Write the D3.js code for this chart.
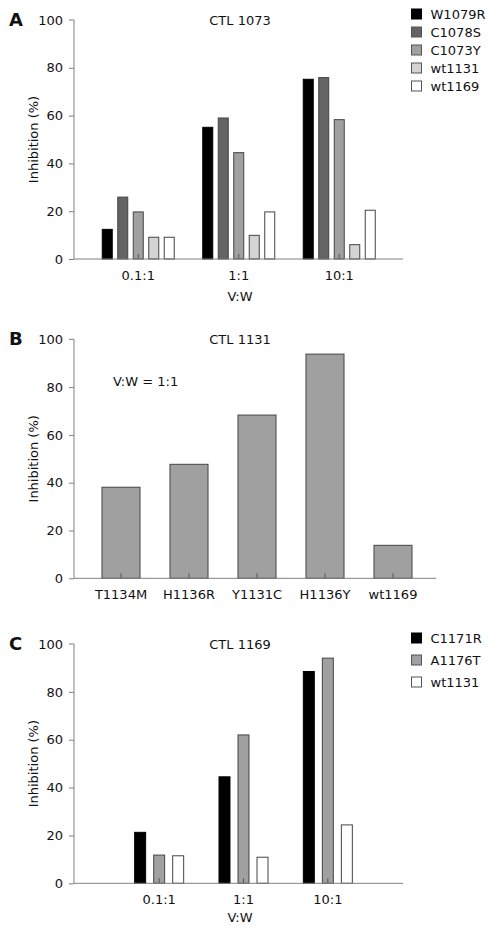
<!DOCTYPE html>
<html><head><meta charset="utf-8">
<script src="https://cdn.jsdelivr.net/npm/d3@7"></script>
<style>
html,body{margin:0;padding:0;background:#fff;}
svg text{font-family:"DejaVu Sans",sans-serif;fill:#111;}
</style></head>
<body>
<svg id="chart" width="492" height="935"></svg>
<script>
// ---------- data ----------
const yTicks = [0, 20, 40, 60, 80, 100];

// Panel A: CTL 1073
const ratiosA = ["0.1:1", "1:1", "10:1"];
const seriesA = ["W1079R", "C1078S", "C1073Y", "wt1131", "wt1169"];
const W1079R = [12.4, 55.1, 75.2];
const C1078S = [25.9, 59.0, 75.9];
const C1073Y = [19.7, 44.5, 58.3];
const wt1131A = [9.1, 9.9, 6.0];
const wt1169A = [9.1, 19.7, 20.4];
const colorsA = ["#000000", "#646464", "#a0a0a0", "#d4d4d4", "#ffffff"];

// Panel B: CTL 1131 (V:W = 1:1)
const mutantsB = ["T1134M", "H1136R", "Y1131C", "H1136Y", "wt1169"];
const inhibitionB = [38.1, 47.7, 68.3, 93.8, 13.8];
const colorB = "#a0a0a0";

// Panel C: CTL 1169
const ratiosC = ["0.1:1", "1:1", "10:1"];
const seriesC = ["C1171R", "A1176T", "wt1131"];
const C1171R = [21.3, 44.5, 88.5];
const A1176T = [11.8, 62.0, 94.1];
const wt1131C = [11.5, 10.9, 24.4];
const colorsC = ["#000000", "#a0a0a0", "#ffffff"];

// ---------- drawing ----------
const svg = d3.select("#chart");
const axisColor = "#808080";
const barStroke = "#444444";

function drawFrame(cfg) {
  const g = svg.append("g");
  const y = d3.scaleLinear().domain([0, 100]).range([cfg.y0, cfg.y100]);
  const ya = g.append("g").attr("transform", `translate(${cfg.axisX},0)`)
    .call(d3.axisLeft(y).tickValues(yTicks).tickSize(5).tickPadding(6));
  ya.select(".domain").attr("stroke", axisColor).attr("d", `M-5,${cfg.y100}H0V${cfg.y0}`);
  ya.selectAll(".tick line").attr("stroke", axisColor);
  ya.selectAll(".tick text").attr("font-size", 13).attr("font-family", null).attr("fill", "#111");
  ya.selectAll(".tick").filter(d => d === 100).select("line").remove();
  g.append("text").attr("x", 9).attr("y", cfg.y100 + 6).attr("font-size", 18)
    .attr("font-weight", "bold").text(cfg.letter);
  g.append("text").attr("x", 240).attr("y", cfg.y100 + 5).attr("text-anchor", "middle")
    .attr("font-size", 13).text(cfg.title);
  g.append("text").attr("transform", `translate(38,${(cfg.y0 + cfg.y100) / 2}) rotate(-90)`)
    .attr("text-anchor", "middle").attr("font-size", 13).text("Inhibition (%)");
  return { g, y };
}

function drawXAxis(g, x, cfg, labelY) {
  const xa = g.append("g").attr("transform", `translate(0,${cfg.y0})`)
    .call(d3.axisBottom(x).tickSize(0).tickPadding(0));
  xa.select(".domain").remove();
  xa.selectAll(".tick text").attr("font-size", 13).attr("font-family", null)
    .attr("fill", "#111").attr("dy", null).attr("y", labelY);
  xa.selectAll(".tick").append("line").attr("y1", 0).attr("y2", -5)
    .attr("stroke", "#555");
  g.append("line").attr("x1", cfg.axisX).attr("x2", cfg.axisEnd)
    .attr("y1", cfg.y0).attr("y2", cfg.y0).attr("stroke", axisColor);
}

function drawLegend(g, names, colors, x0, yTop, step) {
  names.forEach((n, i) => {
    g.append("rect").attr("x", x0).attr("y", yTop + i * step).attr("width", 10).attr("height", 10)
      .attr("fill", colors[i]).attr("stroke", colors[i] === "#000000" ? "#000" : "#555");
    g.append("text").attr("x", x0 + 19).attr("y", yTop + i * step + 10)
      .attr("font-size", 13).text(n);
  });
}

function groupedPanel(cfg, cats, series, vals, colors) {
  const { g, y } = drawFrame(cfg);
  const x = d3.scaleBand().domain(cats).range(cfg.bandRange).padding(0);
  const xi = d3.scaleBand().domain(series).range([-cfg.groupHalf, cfg.groupHalf]).paddingInner(cfg.innerPad);
  const rows = [];
  series.forEach((s, si) => cats.forEach((c, ci) => rows.push({ s, c, v: vals[si][ci], col: colors[si] })));
  g.selectAll("rect.bar").data(rows).join("rect").attr("class", "bar")
    .attr("x", d => x(d.c) + x.bandwidth() / 2 + xi(d.s) + 0.5)
    .attr("y", d => y(d.v))
    .attr("width", xi.bandwidth() - 1)
    .attr("height", d => y(0) - y(d.v))
    .attr("fill", d => d.col)
    .attr("stroke", d => d.col === "#000000" ? "#000" : barStroke).attr("stroke-width", 1);
  drawXAxis(g, x, cfg, 21);
  g.append("text").attr("x", 240).attr("y", cfg.y0 + cfg.vwDy).attr("text-anchor", "middle")
    .attr("font-size", 13).text("V:W");
  return g;
}

// Panel A
const gA = groupedPanel({ letter: "A", title: "CTL 1073", y0: 259, y100: 20, axisX: 74, axisEnd: 403,
  bandRange: [88, 389.5], groupHalf: 36.5, innerPad: 0.29, vwDy: 42 },
  ratiosA, seriesA, [W1079R, C1078S, C1073Y, wt1131A, wt1169A], colorsA);
drawLegend(gA, seriesA, colorsA, 411.5, 9, 18);

// Panel B
(function () {
  const cfg = { letter: "B", title: "CTL 1131", y0: 578.3, y100: 339.3, axisX: 74, axisEnd: 436 };
  const { g, y } = drawFrame(cfg);
  const x = d3.scaleBand().domain(mutantsB).range([87, 427]).paddingInner(0.426).paddingOuter(0.213);
  g.selectAll("rect.bar").data(mutantsB.map((m, i) => ({ m, v: inhibitionB[i] }))).join("rect")
    .attr("class", "bar").attr("x", d => x(d.m) + 0.5).attr("y", d => y(d.v))
    .attr("width", x.bandwidth() - 1).attr("height", d => y(0) - y(d.v))
    .attr("fill", colorB).attr("stroke", barStroke);
  drawXAxis(g, x, cfg, 21);
  g.append("text").attr("x", 113).attr("y", 386).attr("font-size", 13).text("V:W = 1:1");
})();

// Panel C
const gC = groupedPanel({ letter: "C", title: "CTL 1169", y0: 883.3, y100: 644, axisX: 74, axisEnd: 403,
  bandRange: [117, 370], groupHalf: 25, innerPad: 0.37, vwDy: 39 },
  ratiosC, seriesC, [C1171R, A1176T, wt1131C], colorsC);
drawLegend(gC, seriesC, colorsC, 411.5, 633, 22);
</script>
</body></html>
